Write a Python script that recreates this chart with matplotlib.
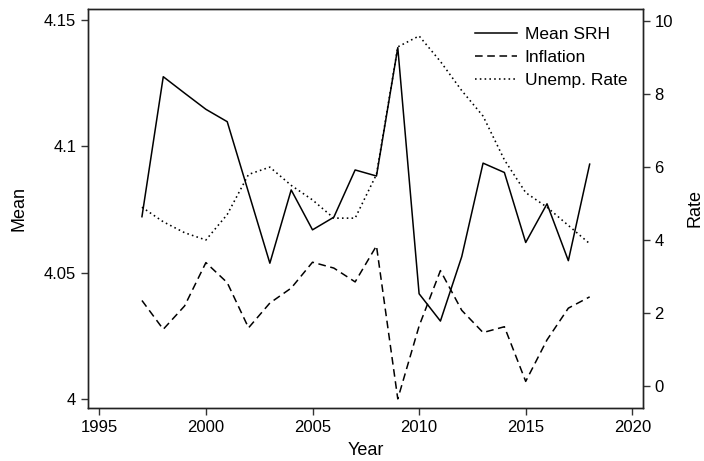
import matplotlib
matplotlib.use("Agg")
import matplotlib.pyplot as plt

plt.rcParams['font.family'] = ['Liberation Sans', 'DejaVu Sans']
plt.rcParams['font.size'] = 12

years = list(range(1997, 2019))
mean_srh = [4.0721, 4.1275, 4.1210, 4.1146, 4.1097, 4.0817, 4.0537, 4.0827,
            4.0669, 4.0719, 4.0906, 4.0882, 4.1390, 4.0416, 4.0308, 4.0563,
            4.0933, 4.0896, 4.0619, 4.0772, 4.0547, 4.0929]
inflation = [2.34, 1.55, 2.19, 3.38, 2.83, 1.59, 2.27, 2.68, 3.39, 3.23, 2.85,
             3.84, -0.36, 1.64, 3.16, 2.07, 1.46, 1.62, 0.12, 1.26, 2.13, 2.44]
unemp = [4.9, 4.5, 4.2, 4.0, 4.7, 5.8, 6.0, 5.5, 5.1, 4.6, 4.6, 5.8, 9.3, 9.6,
         8.9, 8.1, 7.4, 6.2, 5.3, 4.9, 4.4, 3.9]

fig = plt.figure(figsize=(7.04, 4.61), dpi=100)
ax = fig.add_axes([0.125, 0.115, 0.788, 0.8655])
ax2 = ax.twinx()

l1, = ax.plot(years, mean_srh, color='black', lw=1.1, label='Mean SRH')
l2, = ax2.plot(years, inflation, color='black', lw=1.1, dashes=(5, 3), label='Inflation')
l3, = ax2.plot(years, unemp, color='black', lw=1.15, dashes=(1, 2), label='Unemp. Rate')

ax.set_xlim(1994.47, 2020.49)
ax.set_ylim(3.9964, 4.1543)
ax2.set_ylim(-0.61, 10.34)
ax.set_xticks([1995, 2000, 2005, 2010, 2015, 2020])
ax.set_yticks([4, 4.05, 4.1, 4.15])
ax.set_yticklabels(['4', '4.05', '4.1', '4.15'])
ax2.set_yticks([0, 2, 4, 6, 8, 10])

for a in (ax, ax2):
    for s in a.spines.values():
        s.set_linewidth(1.0)
        s.set_color('#222222')
    a.tick_params(direction='out', length=5, width=1.0, color='#333333', labelsize=12)

ax.set_xlabel('Year', fontsize=13, labelpad=5)
ax.set_ylabel('Mean', fontsize=13, labelpad=12)
ax2.set_ylabel('Rate', fontsize=13, labelpad=10)

ax2.legend(handles=[l1, l2, l3], loc='upper right', frameon=False,
           handlelength=2.4, handletextpad=0.45, labelspacing=0.47,
           bbox_to_anchor=(1.0, 0.995), fontsize=12.5)

fig.savefig('out.png', dpi=100)
